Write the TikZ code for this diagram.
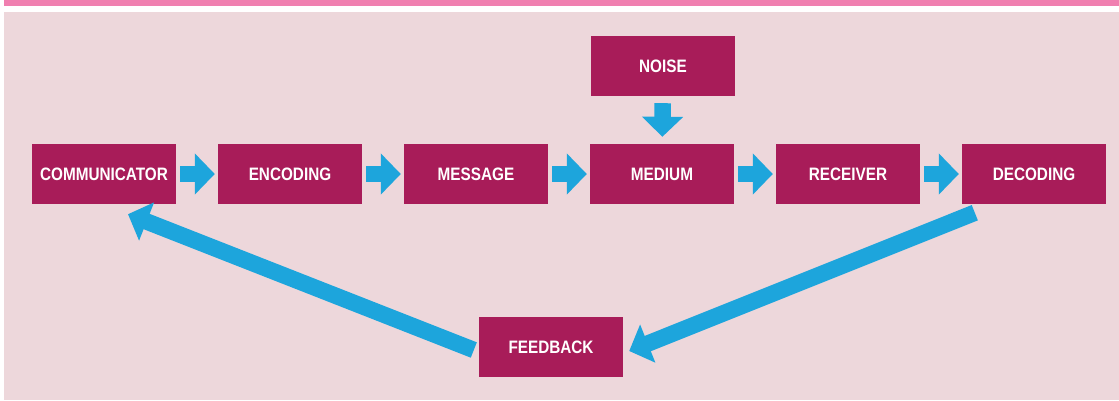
\documentclass[tikz,border=0pt]{standalone}
\usepackage{fontspec}
\newfontfamily\boxfont{Liberation Sans}[FakeStretch=0.85]
\usetikzlibrary{arrows.meta,calc}
\definecolor{bgpink}{HTML}{EDD7DB}
\definecolor{barpink}{HTML}{F07FB0}
\definecolor{boxred}{HTML}{A81C59}
\definecolor{arrowblue}{HTML}{1DA5DC}
\tikzset{
  stage/.style={fill=boxred, text=white, minimum width=144pt, minimum height=60pt,
    inner sep=0pt, font=\boxfont\bfseries\fontsize{18}{20}\selectfont},
  flow/.style={draw=arrowblue, line width=16.5pt,
    -{Triangle[width=40pt,length=20pt,fill=arrowblue]}},
  hop/.style={flow, shorten <=4pt, shorten >=3pt},
  drop/.style={flow, shorten <=7pt, shorten >=7pt}
}
\begin{document}
\begin{tikzpicture}[x=1pt,y=-1pt]
  \useasboundingbox (0,0) rectangle (1119,400);
  % page backdrop: header strip and panel
  \fill[white] (0,0) rectangle (1119,400);
  \fill[barpink] (4,0) rectangle (1119,6);
  \fill[bgpink] (4,12) rectangle (1119,400);

  % stages of the model
  \node[stage] (comm) at (104,174) {COMMUNICATOR};
  \node[stage] (enc)  at (290,174) {ENCODING};
  \node[stage] (msg)  at (476,174) {MESSAGE};
  \node[stage] (med)  at (662,174) {MEDIUM};
  \node[stage] (rec)  at (848,174) {RECEIVER};
  \node[stage] (dec)  at (1034,174) {DECODING};
  \node[stage] (noise) at (663,66) {NOISE};
  \node[stage] (fb)   at (551,347) {FEEDBACK};

  % forward chain
  \draw[hop] (comm) -- (enc);
  \draw[hop] (enc) -- (msg);
  \draw[hop] (msg) -- (med);
  \draw[hop] (med) -- (rec);
  \draw[hop] (rec) -- (dec);
  \draw[drop] (noise) -- (med);

  % feedback loop
  \coordinate (decOut) at ([shift={(13,8.5)}]dec.south west);
  \coordinate (fbIn)   at ([shift={(6,4)}]fb.east);
  \coordinate (fbOut)  at ([shift={(-5,3)}]fb.west);
  \coordinate (commIn) at ([shift={(24,10)}]comm.south);
  \draw[flow] (decOut) -- (fbIn);
  \draw[flow] (fbOut) -- (commIn);
\end{tikzpicture}
\end{document}
